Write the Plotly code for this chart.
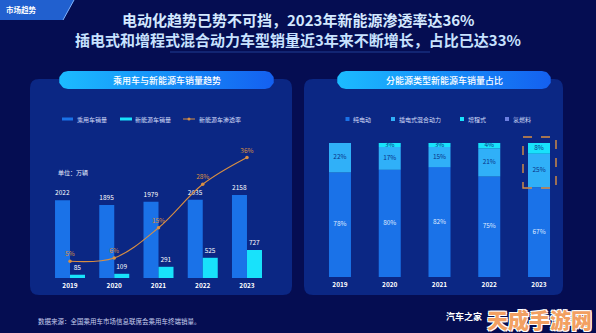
import numpy as np
import plotly.graph_objects as go

W, H = 596, 333

# ---------------- data ----------------
years = ["2019", "2020", "2021", "2022", "2023"]
car_sales = [2022, 1895, 1979, 2035, 2158]        # 乘用车销量 (万辆)
nev_sales = [85, 109, 291, 525, 727]              # 新能源车销量 (万辆)
nev_rate = [5, 6, 15, 28, 36]                     # 新能源车渗透率 (%)

share_bev = [78, 80, 82, 75, 67]     # 纯电动
share_phev = [22, 17, 15, 21, 25]    # 插电式混合动力
share_erev = [0, 3, 3, 4, 8]         # 增程式
share_fcev = [0, 0, 0, 0, 0]         # 氢燃料

title_1 = "电动化趋势已势不可挡，2023年新能源渗透率达36%"
title_2 = "插电式和增程式混合动力车型销量近3年来不断增长，占比已达33%"
left_title = "乘用车与新能源车销量趋势"
right_title = "分能源类型新能源车销量占比"
source_note = "数据来源：全国乘用车市场信息联席会乘用车终端销量。"

# ---------------- style ----------------
BG = "#050d52"
PANEL = "#0b2784"
BLUE = "#1a72e8"
CYAN = "#18e2fb"
SKY = "#30b0f8"
ORANGE = "#d98f42"
PURPLE = "#6c7fe0"
FONT = "Noto Sans CJK SC"


def X(px):
    return px / W


def Y(py):
    return 1 - py / H


def rounded_path(x0, y0, x1, y1, r):
    """rounded rectangle path in paper coords (pixel inputs)"""
    rx, ry = r / W, r / H
    a, b, c, d = X(x0), Y(y1), X(x1), Y(y0)  # left,bottom,right,top
    return (f"M{a+rx},{d} L{c-rx},{d} Q{c},{d} {c},{d-ry} L{c},{b+ry} "
            f"Q{c},{b} {c-rx},{b} L{a+rx},{b} Q{a},{b} {a},{b+ry} "
            f"L{a},{d-ry} Q{a},{d} {a+rx},{d} Z")


def pill_points(x0, y0, x1, y1):
    r = (y1 - y0) / 2
    cy = (y0 + y1) / 2
    t1 = np.linspace(-np.pi / 2, np.pi / 2, 20)
    right_x = x1 - r + r * np.cos(t1)
    right_y = cy + r * np.sin(t1)
    t2 = np.linspace(np.pi / 2, 3 * np.pi / 2, 20)
    left_x = x0 + r + r * np.cos(t2)
    left_y = cy + r * np.sin(t2)
    xs = np.concatenate([right_x, left_x, right_x[:1]])
    ys = np.concatenate([right_y, left_y, right_y[:1]])
    return xs, ys


fig = go.Figure()

# ---------------- decoration subplot (pills) ----------------
for (x0, x1) in [(59, 274), (337, 551)]:
    xs, ys = pill_points(x0, 71, x1, 89)
    fig.add_trace(go.Scatter(
        x=xs, y=ys, xaxis="x3", yaxis="y4", mode="lines", fill="toself",
        line=dict(width=0), hoverinfo="skip", showlegend=False,
        fillgradient=dict(type="horizontal",
                          colorscale=[[0, "#1cbcff"], [0.5, "#168ef8"], [1, "#1460f0"]])))

# ---------------- left chart ----------------
BW_L = 0.339
fig.add_trace(go.Bar(
    x=years, y=car_sales, name="乘用车销量", marker=dict(color=BLUE, line=dict(width=0)),
    width=BW_L, offset=-BW_L, text=[str(v) for v in car_sales], textposition="outside",
    textfont=dict(size=6.5, color="#ffffff", family=FONT), cliponaxis=False,
    xaxis="x", yaxis="y", showlegend=False))
fig.add_trace(go.Bar(
    x=years, y=nev_sales, name="新能源车销量", marker=dict(color=CYAN, line=dict(width=0)),
    width=BW_L, offset=0, text=[str(v) for v in nev_sales], textposition="outside",
    textfont=dict(size=6.5, color="#ffffff", family=FONT), cliponaxis=False,
    xaxis="x", yaxis="y", showlegend=False))
fig.add_trace(go.Scatter(
    x=years, y=nev_rate, name="新能源车渗透率", mode="lines+markers+text",
    line=dict(color=ORANGE, width=1.1, shape="spline"),
    marker=dict(color=ORANGE, size=3.5),
    text=[f"{v}%" for v in nev_rate], textposition="top center",
    textfont=dict(size=6.5, color=ORANGE, family=FONT), cliponaxis=False,
    xaxis="x", yaxis="y2", showlegend=False))

# ---------------- right chart ----------------
BW_R = 0.442
series = [("纯电动", share_bev, BLUE, "#dfe9ff"),
          ("插电式混合动力", share_phev, SKY, "#0b3488"),
          ("增程式", share_erev, CYAN, "#0b3488"),
          ("氢燃料", share_fcev, PURPLE, "#ffffff")]
base = np.zeros(len(years))
for name, vals, col, tcol in series:
    vals = np.array(vals, dtype=float)
    fig.add_trace(go.Bar(
        x=years, y=vals, base=base.copy(), name=name, width=BW_R, offset=-BW_R / 2,
        marker=dict(color=col, line=dict(width=0)), xaxis="x2", yaxis="y3",
        showlegend=False))
    mask = vals > 0
    fig.add_trace(go.Scatter(
        x=[y for y, m in zip(years, mask) if m],
        y=(base + vals / 2)[mask],
        mode="text", text=[f"{int(v)}%" for v in vals[mask]],
        textfont=dict(size=6.5, color=tcol, family=FONT),
        xaxis="x2", yaxis="y3", showlegend=False, cliponaxis=False, hoverinfo="skip"))
    base = base + vals

# ---------------- shapes ----------------
shapes = [
    # panels
    dict(type="path", path=rounded_path(30, 79, 292, 295, 9), xref="paper", yref="paper",
         fillcolor=PANEL, line=dict(width=0), layer="below"),
    dict(type="path", path=rounded_path(304, 79, 563, 295, 9), xref="paper", yref="paper",
         fillcolor=PANEL, line=dict(width=0), layer="below"),
    # tab
    dict(type="path",
         path=f"M{X(0)},{Y(0)} L{X(74)},{Y(0)} L{X(63)},{Y(20)} L{X(0)},{Y(20)} Z",
         xref="paper", yref="paper", fillcolor="#2160cf",
         line=dict(width=0), layer="below"),
    dict(type="line", x0=X(74), y0=Y(0), x1=X(63), y1=Y(20), xref="paper", yref="paper",
         line=dict(color="#7fb4ff", width=1), layer="below"),
    # title glow
    dict(type="line", x0=X(170), y0=Y(52), x1=X(430), y1=Y(52), xref="paper", yref="paper",
         line=dict(color="#3a6fd8", width=1), opacity=0.5, layer="below"),
    # dashed box around 2023 (highlight)
    dict(type="rect", xref="paper", yref="paper", x0=X(523), x1=X(556), y0=Y(188), y1=Y(137),
         line=dict(color=ORANGE, width=1.4, dash="dash"), fillcolor="rgba(0,0,0,0)"),
]

# left legend
shapes += [
    dict(type="rect", xref="paper", yref="paper", x0=X(62), x1=X(73), y0=Y(120.5), y1=Y(117.5),
         fillcolor=BLUE, line=dict(width=0)),
    dict(type="rect", xref="paper", yref="paper", x0=X(120), x1=X(132), y0=Y(120.5), y1=Y(117.5),
         fillcolor=CYAN, line=dict(width=0)),
    dict(type="line", xref="paper", yref="paper", x0=X(183), x1=X(195), y0=Y(119), y1=Y(119),
         line=dict(color=ORANGE, width=1)),
    dict(type="circle", xref="paper", yref="paper", x0=X(187.5), x1=X(190.5), y0=Y(120.5), y1=Y(117.5),
         fillcolor=ORANGE, line=dict(width=0)),
]
# right legend
for px_, col in [(345.5, BLUE), (391, SKY), (460, CYAN), (505, PURPLE)]:
    shapes.append(dict(type="rect", xref="paper", yref="paper", x0=X(px_), x1=X(px_ + 4),
                       y0=Y(121), y1=Y(117), fillcolor=col, line=dict(width=0)))

# ---------------- annotations ----------------
def ann(text, px_, py_, size, color="#ffffff", xanchor="center", weight=400, **kw):
    d = dict(text=text, x=X(px_), y=Y(py_), xref="paper", yref="paper", showarrow=False,
             xanchor=xanchor, yanchor="middle",
             font=dict(size=size, color=color, family=FONT, weight=weight))
    d.update(kw)
    return d

annotations = [
    ann(title_1, 298, 20, 15, "#d3e8ff", weight=700),
    ann(title_2, 298, 39, 15, "#c8e2ff", weight=700),
    ann("市场趋势", 4, 9.5, 7.5, "#ffffff", xanchor="left", weight=700),
    ann(left_title, 166.5, 80, 9, "#ffffff", weight=500),
    ann(right_title, 444, 80, 9, "#ffffff", weight=500),
    ann("单位：万辆", 56, 172, 6, "#e6ecff", xanchor="left"),
    ann("乘用车销量", 75, 119, 6, "#d5defa", xanchor="left"),
    ann("新能源车销量", 133, 119, 6, "#d5defa", xanchor="left"),
    ann("新能源车渗透率", 197, 119, 6, "#d5defa", xanchor="left"),
    ann("纯电动", 351, 119, 6, "#d5defa", xanchor="left"),
    ann("插电式混合动力", 397, 119, 6, "#d5defa", xanchor="left"),
    ann("增程式", 466, 119, 6, "#d5defa", xanchor="left"),
    ann("氢燃料", 511, 119, 6, "#d5defa", xanchor="left"),
    ann(source_note, 36, 321, 6.5, "#c7cfee", xanchor="left"),
    ann("汽车之家", 464, 316, 9, "#ffffff", weight=700),
    ann("天成手游网", 539, 319, 21, "#f2a062", weight=900),
]
annotations[-1]["font"]["shadow"] = ("1px 1px 0 #ffffff, -1px -1px 0 #ffffff, "
                                      "1px -1px 0 #ffffff, -1px 1px 0 #ffffff")

axis_common = dict(showgrid=False, zeroline=False, showline=False, ticks="",
                   fixedrange=True)

fig.update_layout(
    width=W, height=H, margin=dict(l=0, r=0, t=0, b=0),
    paper_bgcolor=BG, plot_bgcolor="rgba(0,0,0,0)",
    barmode="group", showlegend=False,
    font=dict(family=FONT, color="#ffffff"),
    xaxis=dict(**axis_common, type="category", domain=[X(47.9), X(269.1)], anchor="y",
               tickfont=dict(size=6.5, color="#ffffff", family=FONT, weight=700),
               ticklabelstandoff=2),
    yaxis=dict(**axis_common, domain=[Y(278), Y(130)], range=[0, 3844], visible=False),
    yaxis2=dict(**axis_common, overlaying="y", range=[0, 44.2], visible=False),
    xaxis2=dict(**axis_common, type="category", domain=[X(315.1), X(563.9)], anchor="y3",
                tickfont=dict(size=6.5, color="#ffffff", family=FONT, weight=700),
                ticklabelstandoff=2),
    yaxis3=dict(**axis_common, domain=[Y(277), Y(143)], range=[0, 100], visible=False),
    xaxis3=dict(domain=[0, 1], range=[0, W], visible=False, fixedrange=True, anchor="y4"),
    yaxis4=dict(domain=[0, 1], range=[H, 0], visible=False, fixedrange=True, anchor="x3"),
    shapes=shapes, annotations=annotations,
)

fig.write_html("out.html")
